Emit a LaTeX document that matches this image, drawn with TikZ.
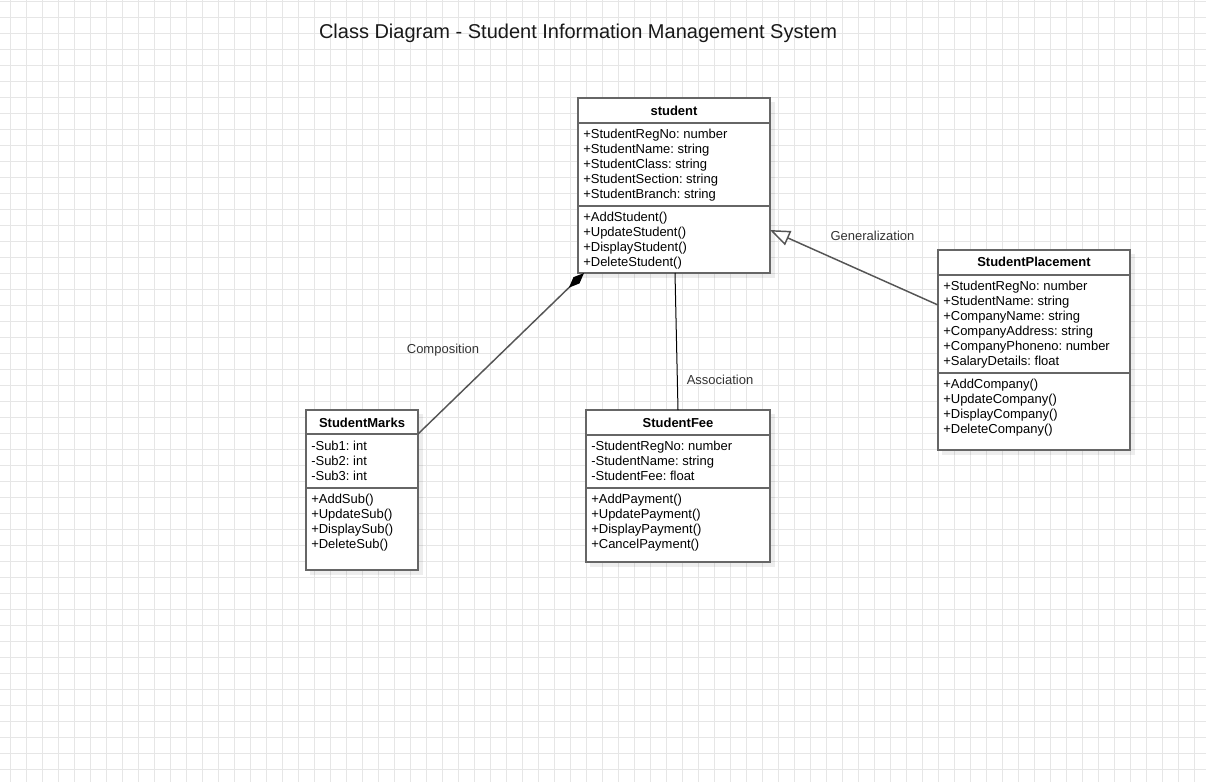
\documentclass[tikz,border=0pt]{standalone}
\usepackage{fontspec}
\setmainfont{Liberation Sans}
\usetikzlibrary{arrows.meta,calc}
\definecolor{gridc}{HTML}{E6E6E6}
\definecolor{boxc}{HTML}{666666}
\definecolor{linec}{HTML}{555555}
\definecolor{lblc}{HTML}{333333}
\frenchspacing
\begin{document}
\frenchspacing
\begin{tikzpicture}[x=0.75pt,y=-0.75pt,
  cls/.style={draw=boxc, line width=1.1pt, fill=white, anchor=north west, inner sep=0pt, outer sep=0pt},
  shade/.style={fill=black, opacity=0.07},
  sepline/.style={draw=boxc, line width=1.1pt},
  txt/.style={font=\fontsize{9.75pt}{11.25pt}\selectfont, anchor=base west, inner sep=0pt},
  ttl/.style={font=\fontsize{9.75pt}{11.25pt}\selectfont\bfseries, anchor=base, inner sep=0pt},
  lbl/.style={font=\fontsize{9.75pt}{11.25pt}\selectfont, text=lblc, anchor=base, inner sep=0pt},
  comp/.style={draw=linec, line width=1.1pt, -{Diamond[length=15.75pt,width=6.5pt,fill=black,color=black]}},
  gen/.style={draw=linec, line width=1.1pt, -{Triangle[length=15pt,width=11.5pt,fill=white]}},
  assoc/.style={draw=black, line width=0.75pt}]
\useasboundingbox (0,0) rectangle (1206,782);
\fill[white] (0,0) rectangle (1206,782);
% grid
\foreach \k in {0,...,74} \draw[gridc, line width=0.75pt] ({10+16*\k},0) -- ({10+16*\k},782);
\foreach \k in {0,...,48} \draw[gridc, line width=0.75pt] (0,{1.3+16*\k}) -- (1206,{1.3+16*\k});

% title
\node[font=\fontsize{15pt}{18pt}\selectfont, text=black!90, anchor=base, inner sep=0pt] (title) at (578,38.5) {Class Diagram - Student Information Management System};

% shadows
\fill[shade] (582,102) rectangle (775,278);
\fill[shade] (942,254) rectangle (1135,455);
\fill[shade] (310,414) rectangle (423,575);
\fill[shade] (590,414) rectangle (775,567);

% student
\node[cls, minimum width=192*0.75pt, minimum height=175*0.75pt] (student) at (578,98) {};
\draw[sepline] (578,123) -- (770,123);
\draw[sepline] (578,206) -- (770,206);
\node[ttl] (studentT) at (674,115.5) {student};
\foreach \t [count=\i] in {+StudentRegNo: number,+StudentName: string,+StudentClass: string,+StudentSection: string,+StudentBranch: string}
  \node[txt] (studentA\i) at (583,{138+15*(\i-1)}) {\t};
\foreach \t [count=\i] in {+AddStudent(),+UpdateStudent(),+DisplayStudent(),+DeleteStudent()}
  \node[txt] (studentM\i) at (583,{221+15*(\i-1)}) {\t};

% StudentPlacement
\node[cls, minimum width=192*0.75pt, minimum height=200*0.75pt] (place) at (938,250) {};
\draw[sepline] (938,275) -- (1130,275);
\draw[sepline] (938,373) -- (1130,373);
\node[ttl] (placeT) at (1034,266.5) {StudentPlacement};
\foreach \t [count=\i] in {+StudentRegNo: number,+StudentName: string,+CompanyName: string,+CompanyAddress: string,+CompanyPhoneno: number,+SalaryDetails: float}
  \node[txt] (placeA\i) at (943,{290+15*(\i-1)}) {\t};
\foreach \t [count=\i] in {+AddCompany(),+UpdateCompany(),+DisplayCompany(),+DeleteCompany()}
  \node[txt] (placeM\i) at (943,{388+15*(\i-1)}) {\t};

% StudentMarks
\node[cls, minimum width=112*0.75pt, minimum height=160*0.75pt] (marks) at (306,410) {};
\draw[sepline] (306,434) -- (418,434);
\draw[sepline] (306,488) -- (418,488);
\node[ttl] (marksT) at (362,427) {StudentMarks};
\foreach \t [count=\i] in {-Sub1: int,-Sub2: int,-Sub3: int}
  \node[txt] (marksA\i) at (311,{450+15*(\i-1)}) {\t};
\foreach \t [count=\i] in {+AddSub(),+UpdateSub(),+DisplaySub(),+DeleteSub()}
  \node[txt] (marksM\i) at (311,{503+15*(\i-1)}) {\t};

% StudentFee
\node[cls, minimum width=184*0.75pt, minimum height=152*0.75pt] (fee) at (586,410) {};
\draw[sepline] (586,435) -- (770,435);
\draw[sepline] (586,488) -- (770,488);
\node[ttl] (feeT) at (678,427) {StudentFee};
\foreach \t [count=\i] in {-StudentRegNo: number,-StudentName: string,-StudentFee: float}
  \node[txt] (feeA\i) at (591,{450+15*(\i-1)}) {\t};
\foreach \t [count=\i] in {+AddPayment(),+UpdatePayment(),+DisplayPayment(),+CancelPayment()}
  \node[txt] (feeM\i) at (591,{503+15*(\i-1)}) {\t};

% connectors
\draw[comp] ($(marks.north east)+(0,24)$) -- ($(student.south west)+(6,0)$);
\draw[assoc] ($(student.south)+(1,0)$) -- (fee.north);
\draw[gen] ($(place.north west)+(0,55)$) -- ($(student.north east)+(0,132)$);

% labels
\node[lbl] (lblComp) at (443,353) {Composition};
\node[lbl] (lblAssoc) at (720,384.5) {Association};
\node[lbl] (lblGen) at (872.5,240) {Generalization};
\end{tikzpicture}
\end{document}
